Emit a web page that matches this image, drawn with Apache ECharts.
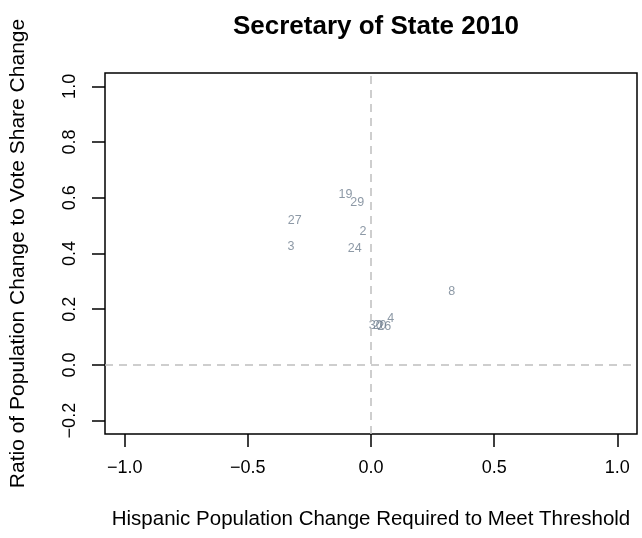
<!DOCTYPE html>
<html>
<head>
<meta charset="utf-8">
<script src="https://cdn.jsdelivr.net/npm/echarts@6/dist/echarts.min.js"></script>
<style>html,body{margin:0;padding:0;background:#fff;}#c{width:642px;height:538px;}</style>
</head>
<body>
<div id="c"></div>
<script>
// Data
const labels = ['19', '29', '2', '24', '27', '3', '8', '30', '20', '26', '4'];
const xValues = [-0.104, -0.056, -0.033, -0.066, -0.310, -0.325, 0.328, 0.019, 0.035, 0.054, 0.080];
const yValues = [0.613, 0.582, 0.479, 0.419, 0.520, 0.424, 0.263, 0.141, 0.141, 0.138, 0.168];
const xTicks = [-1.0, -0.5, 0.0, 0.5, 1.0];
const yTicks = [-0.2, 0.0, 0.2, 0.4, 0.6, 0.8, 1.0];

const FONT = 'Liberation Sans, Arial, Helvetica, sans-serif';
const chart = echarts.init(document.getElementById('c'), null, {renderer: 'canvas'});
const pts = labels.map((l, i) => [xValues[i], yValues[i], l]);
const fmt = v => (v < 0 ? '\u2212' : '') + Math.abs(v).toFixed(1);

chart.setOption({
  animation: false,
  backgroundColor: '#ffffff',
  title: {
    text: 'Secretary of State 2010',
    left: 371, top: 9, textAlign: 'center',
    textStyle: {fontFamily: FONT, fontWeight: 'bold', fontSize: 26, color: '#000'}
  },
  grid: {left: 105, top: 73, right: 5, bottom: 104, outerBoundsMode: 'none', containLabel: false,
    show: true, borderColor: '#000', borderWidth: 1.5, backgroundColor: 'transparent'},
  xAxis: {
    type: 'value', min: -1.08, max: 1.08,
    name: 'Hispanic Population Change Required to Meet Threshold',
    nameLocation: 'middle', nameGap: 75,
    nameTextStyle: {fontFamily: FONT, fontSize: 20.5, color: '#000'},
    axisLine: {show: false, onZero: false},
    splitLine: {show: false},
    axisTick: {show: true, inside: false, length: 13, customValues: xTicks, lineStyle: {color: '#000', width: 1.5}},
    axisLabel: {show: true, customValues: xTicks, margin: 25, fontFamily: FONT, fontSize: 18, color: '#000', formatter: fmt}
  },
  yAxis: {
    type: 'value', min: -0.248, max: 1.048,
    name: 'Ratio of Population Change to Vote Share Change',
    nameLocation: 'middle', nameGap: 76,
    nameTextStyle: {fontFamily: FONT, fontSize: 21, color: '#000'},
    axisLine: {show: false, onZero: false},
    splitLine: {show: false},
    axisTick: {show: true, inside: false, length: 13, customValues: yTicks, lineStyle: {color: '#000', width: 1.5}},
    axisLabel: {show: true, customValues: yTicks, rotate: 90, margin: 26, fontFamily: FONT, fontSize: 18, color: '#000', formatter: fmt}
  },
  series: [{
    type: 'scatter',
    data: pts,
    symbolSize: 1,
    itemStyle: {color: 'rgba(0,0,0,0)'},
    label: {
      show: true, position: 'inside',
      formatter: p => p.value[2],
      fontFamily: FONT, fontSize: 12.5, color: '#708090'
    },
    labelLayout: {hideOverlap: false},
    markLine: {
      silent: true, symbol: 'none', animation: false,
      label: {show: false},
      lineStyle: {color: '#bebebe', type: [8, 6], width: 1.5},
      data: [{xAxis: 0}, {yAxis: 0}]
    }
  }]
});
</script>
</body>
</html>
